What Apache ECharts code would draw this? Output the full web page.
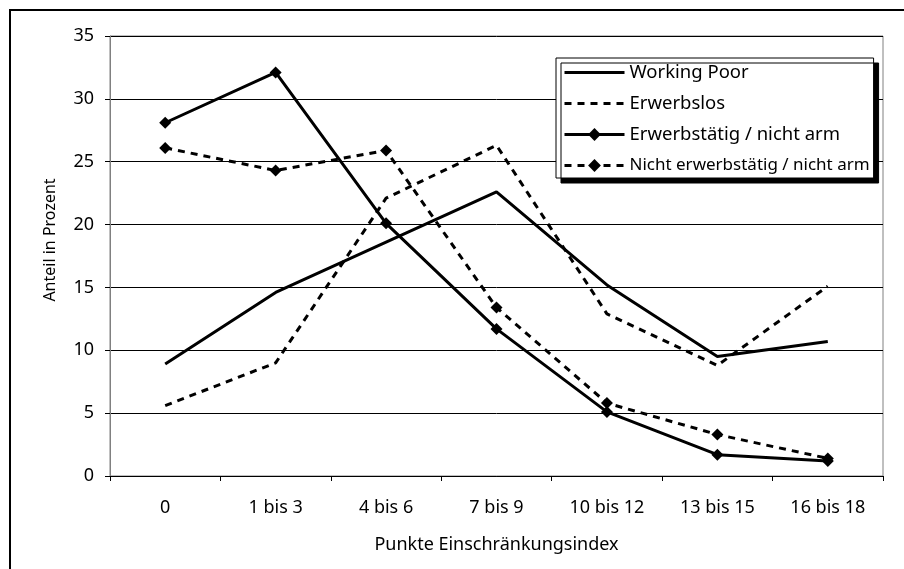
<!DOCTYPE html>
<html><head><meta charset="utf-8">
<script src="https://cdn.jsdelivr.net/npm/echarts@6/dist/echarts.min.js"></script>
<style>html,body{margin:0;padding:0;background:#fff}#c{width:904px;height:569px}</style>
</head><body><div id="c"></div>
<script>
const categories = ['0', '1 bis 3', '4 bis 6', '7 bis 9', '10 bis 12', '13 bis 15', '16 bis 18'];
const workingPoor = [8.9, 14.6, 18.6, 22.6, 15.2, 9.5, 10.7];
const erwerbslos = [5.6, 9.0, 22.1, 26.3, 12.9, 8.8, 15.1];
const erwerbstaetigNichtArm = [28.1, 32.1, 20.1, 11.7, 5.1, 1.7, 1.2];
const nichtErwerbstaetigNichtArm = [26.1, 24.3, 25.9, 13.4, 5.8, 3.3, 1.4];
const seriesNames = ['Working Poor', 'Erwerbslos', 'Erwerbstätig / nicht arm', 'Nicht erwerbstätig / nicht arm'];
const yMin = 0, yMax = 35, yStep = 5;
const xTitle = 'Punkte Einschränkungsindex';
const yTitle = 'Anteil in Prozent';

const font = 'Noto Sans';
const dash = [7, 6];
const noSymbol = {color: 'rgba(0,0,0,0)', borderWidth: 0, opacity: 0};

const chart = echarts.init(document.getElementById('c'), null, {renderer: 'canvas'});
chart.setOption({
  animation: false,
  backgroundColor: '#fff',
  textStyle: {fontFamily: font, color: '#000'},
  grid: {left: 110, right: 21, top: 36, bottom: 93, show: true, borderColor: '#808080', borderWidth: 1},
  graphic: [
    {type: 'rect', shape: {x: 10, y: 10, width: 1000, height: 1000}, style: {fill: 'none', stroke: '#000', lineWidth: 2}, z: -1},
    {type: 'text', x: 50, y: 240, rotation: Math.PI / 2,
     style: {text: yTitle, fontFamily: font, fontSize: 16, fill: '#000', align: 'center', verticalAlign: 'middle'}}
  ],
  legend: {
    orient: 'vertical', left: 556, top: 58,
    padding: [5, 4, 3, 7], itemGap: 12, itemWidth: 60, itemHeight: 16,
    backgroundColor: '#fff', borderColor: '#000', borderWidth: 1,
    shadowColor: '#000', shadowBlur: 0, shadowOffsetX: 5, shadowOffsetY: 5,
    lineStyle: {width: 3},
    textStyle: {fontFamily: font, fontSize: 18, color: '#000', lineHeight: 19,
      rich: {
        a: {fontFamily: font, fontSize: 18.5, lineHeight: 19, color: '#000'},
        b: {fontFamily: font, fontSize: 17, lineHeight: 19, color: '#000'}
      }},
    formatter: function (name) {
      return name === seriesNames[3] ? '{b|' + name + '}' : '{a|' + name + '}';
    },
    data: [
      {name: seriesNames[0], itemStyle: noSymbol},
      {name: seriesNames[1], itemStyle: noSymbol},
      {name: seriesNames[2]},
      {name: seriesNames[3]}
    ]
  },
  xAxis: {
    type: 'category', data: categories, boundaryGap: true,
    name: xTitle, nameLocation: 'middle', nameGap: 60,
    nameTextStyle: {fontFamily: font, fontSize: 18, color: '#000'},
    axisLine: {lineStyle: {color: '#000', width: 1}},
    axisTick: {show: true, length: 5, lineStyle: {color: '#000'}},
    axisLabel: {margin: 23, fontFamily: font, fontSize: 18, color: '#000'},
    splitLine: {show: false}
  },
  yAxis: {
    type: 'value', min: yMin, max: yMax, interval: yStep,
    axisLine: {show: true, lineStyle: {color: '#808080', width: 1}},
    axisTick: {show: true, length: 5, lineStyle: {color: '#000'}},
    axisLabel: {margin: 16, fontFamily: font, fontSize: 18, color: '#000'},
    splitLine: {show: true, lineStyle: {color: '#000', width: 1}}
  },
  series: [
    {name: seriesNames[0], type: 'line', data: workingPoor, symbol: 'none',
     lineStyle: {color: '#000', width: 3, type: 'solid'}, itemStyle: {color: '#000'}},
    {name: seriesNames[1], type: 'line', data: erwerbslos, symbol: 'none',
     lineStyle: {color: '#000', width: 3, type: dash}, itemStyle: {color: '#000'}},
    {name: seriesNames[2], type: 'line', data: erwerbstaetigNichtArm, symbol: 'diamond', symbolSize: 12,
     lineStyle: {color: '#000', width: 3, type: 'solid'}, itemStyle: {color: '#000'}},
    {name: seriesNames[3], type: 'line', data: nichtErwerbstaetigNichtArm, symbol: 'diamond', symbolSize: 12,
     lineStyle: {color: '#000', width: 3, type: dash}, itemStyle: {color: '#000'}}
  ]
});
</script>
</body></html>
